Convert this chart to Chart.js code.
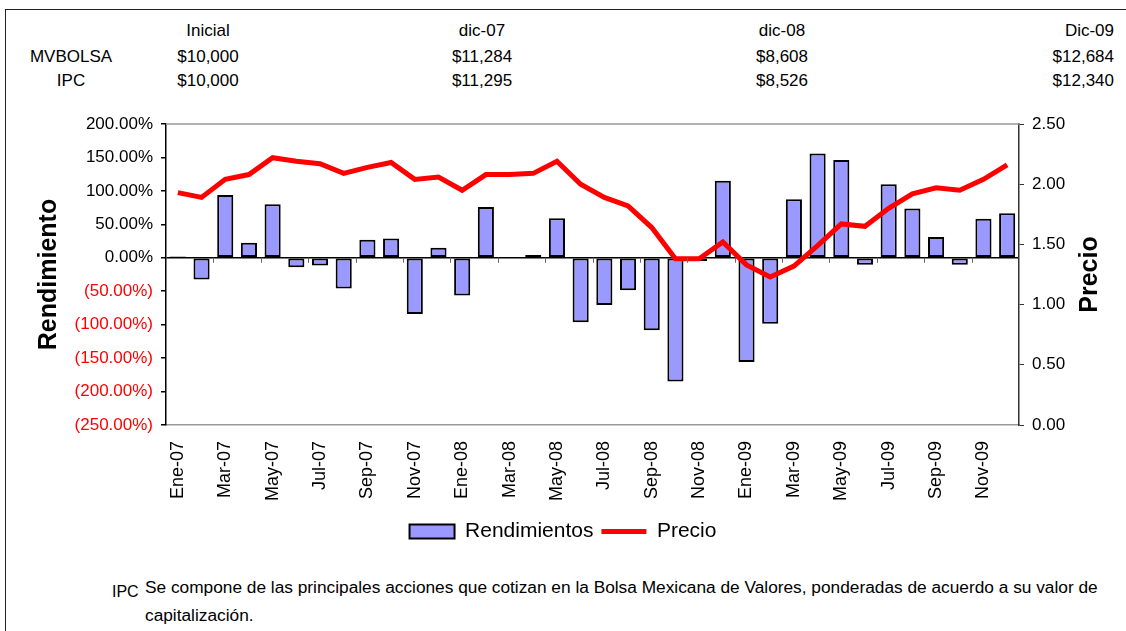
<!DOCTYPE html>
<html>
<head>
<meta charset="utf-8">
<script src="https://cdn.jsdelivr.net/npm/chart.js@4.4.1/dist/chart.umd.min.js"></script>
<style>
  body { margin: 0; background: #fff; font-family: 'Liberation Sans', Arial, sans-serif; }
  #page { position: relative; width: 1126px; height: 631px; overflow: hidden; }
  #frame { position: absolute; left: 5px; top: 9px; width: 1140px; height: 640px; border: 1.5px solid #222; }
  .cell { position: absolute; font-size: 17px; color: #000; white-space: nowrap; transform: translate(-50%, -50%); }
  .cell.right { transform: translate(-100%, -50%); }
  #chartBox { position: absolute; left: 0; top: 100px; width: 1126px; height: 452px; }
  .note { position: absolute; font-size: 17.3px; color: #000; white-space: nowrap; }
</style>
</head>
<body>
<div id="page">
  <div id="frame"></div>
  <div id="table"></div>
  <div id="chartBox"><canvas id="retChart"></canvas></div>
  <div class="note" style="left:112px; top:583px; font-size:16px;">IPC</div>
  <div class="note" style="left:145px; top:577px;">Se compone de las principales acciones que cotizan en la Bolsa Mexicana de Valores, ponderadas de acuerdo a su valor de</div>
  <div class="note" style="left:145px; top:605px;">capitalización.</div>
</div>
<script>
// Tabla de valores
const tableCols = ['Inicial', 'dic-07', 'dic-08', 'Dic-09'];
const mvbolsaRow = ['$10,000', '$11,284', '$8,608', '$12,684'];
const ipcRow = ['$10,000', '$11,295', '$8,526', '$12,340'];

// Serie mensual
const months = ['Ene-07', 'Feb-07', 'Mar-07', 'Abr-07', 'May-07', 'Jun-07', 'Jul-07', 'Ago-07', 'Sep-07', 'Oct-07', 'Nov-07', 'Dic-07',
    'Ene-08', 'Feb-08', 'Mar-08', 'Abr-08', 'May-08', 'Jun-08', 'Jul-08', 'Ago-08', 'Sep-08', 'Oct-08', 'Nov-08', 'Dic-08',
    'Ene-09', 'Feb-09', 'Mar-09', 'Abr-09', 'May-09', 'Jun-09', 'Jul-09', 'Ago-09', 'Sep-09', 'Oct-09', 'Nov-09', 'Dic-09'];
const rendimientos = [2, -32.5, 94, 22.5, 80, -14, -11.5, -46, 27, 29, -84, 15,
    -56.5, 76, 0.5, 4, 59, -96.5, -70.5, -48.5, -108.5, -185, -5, 115,
    -156, -98.5, 87.5, 156, 146, -10.5, 110, 73.5, 31, -10.5, 58.5, 66.5];
const precio = [1.93, 1.89, 2.04, 2.08, 2.22, 2.19, 2.17, 2.09, 2.14, 2.18, 2.04, 2.06,
    1.95, 2.08, 2.08, 2.09, 2.19, 2.00, 1.89, 1.82, 1.64, 1.38, 1.38, 1.52,
    1.33, 1.23, 1.32, 1.49, 1.67, 1.65, 1.80, 1.92, 1.97, 1.95, 2.04, 2.16];

// build the header table
const colX = [208, 482, 782, 1114];
const rowY = [31, 57, 81];
function addCell(text, x, y, right) {
    const d = document.createElement('div');
    d.className = right ? 'cell right' : 'cell';
    d.style.left = x + 'px';
    d.style.top = y + 'px';
    d.textContent = text;
    document.getElementById('table').appendChild(d);
}
addCell('MVBOLSA', 71, rowY[1]);
addCell('IPC', 71, rowY[2]);
tableCols.forEach((c, i) => {
    const last = i === tableCols.length - 1;
    addCell(c, colX[i], rowY[0], last);
    addCell(mvbolsaRow[i], colX[i], rowY[1], last);
    addCell(ipcRow[i], colX[i], rowY[2], last);
});

Chart.defaults.font.family = "'Liberation Sans', Arial, sans-serif";
Chart.defaults.color = '#000';

// axis titles, top frame line, small ticks on the zero line
const extras = {
    id: 'extras',
    afterDraw(chart) {
        const { ctx, chartArea } = chart;
        const xs = chart.scales.x;
        const zeroY = chart.scales.y.getPixelForValue(0);
        const half = (xs.getPixelForValue(1) - xs.getPixelForValue(0)) / 2;
        const midY = (chartArea.top + chartArea.bottom) / 2;
        ctx.save();
        ctx.strokeStyle = '#999';
        ctx.lineWidth = 1.5;
        ctx.beginPath();
        ctx.moveTo(chartArea.left, chartArea.top);
        ctx.lineTo(chartArea.right, chartArea.top);
        ctx.stroke();
        ctx.strokeStyle = '#666';
        ctx.lineWidth = 1;
        ctx.beginPath();
        for (let i = 2; i < months.length; i += 2) {
            const px = Math.round(xs.getPixelForValue(i) - half) + 0.5;
            ctx.moveTo(px, zeroY);
            ctx.lineTo(px, zeroY + 5);
        }
        ctx.stroke();
        ctx.fillStyle = '#000';
        ctx.font = "bold 25px 'Liberation Sans', Arial, sans-serif";
        ctx.textAlign = 'center';
        ctx.textBaseline = 'middle';
        ctx.translate(49, midY);
        ctx.rotate(-Math.PI / 2);
        ctx.fillText('Rendimiento', 0, 0);
        ctx.restore();
        ctx.save();
        ctx.fillStyle = '#000';
        ctx.font = "bold 25px 'Liberation Sans', Arial, sans-serif";
        ctx.textAlign = 'center';
        ctx.textBaseline = 'middle';
        ctx.translate(1090, midY);
        ctx.rotate(-Math.PI / 2);
        ctx.fillText('Precio', 0, 0);
        ctx.restore();
    }
};

function pctLabel(v) {
    if (v < 0) return '(' + Math.abs(v).toFixed(2) + '%)';
    return v.toFixed(2) + '%';
}

const ctx = document.getElementById('retChart').getContext('2d');
new Chart(ctx, {
    type: 'bar',
    data: {
        labels: months,
        datasets: [{
            label: 'Rendimientos',
            data: rendimientos,
            backgroundColor: '#9999FF',
            borderColor: '#000',
            borderWidth: 2,
            borderSkipped: false,
            barPercentage: 0.68,
            categoryPercentage: 1,
            yAxisID: 'y',
            order: 1,
            pointStyle: 'rect'
        }, {
            type: 'line',
            label: 'Precio',
            data: precio,
            borderColor: '#FF0000',
            backgroundColor: '#FF0000',
            borderWidth: 5,
            pointRadius: 0,
            tension: 0,
            yAxisID: 'y1',
            order: 0,
            pointStyle: 'line'
        }]
    },
    options: {
        responsive: true,
        maintainAspectRatio: false,
        animation: false,
        layout: { padding: { top: 24, left: 0, right: 0, bottom: 0 } },
        plugins: {
            tooltip: { enabled: false },
            legend: {
                position: 'bottom',
                labels: {
                    usePointStyle: true,
                    pointStyleWidth: 45,
                    boxHeight: 14,
                    padding: 8,
                    font: { size: 21 },
                    color: '#000',
                    sort: (a, b) => a.datasetIndex - b.datasetIndex
                }
            }
        },
        scales: {
            x: {
                grid: { display: false },
                border: { display: true, color: '#999', width: 1.5 },
                ticks: {
                    autoSkip: false,
                    minRotation: 90,
                    maxRotation: 90,
                    padding: 8,
                    font: { size: 18 },
                    callback: (v, i) => (i % 2 === 0 ? months[i] : '')
                },
                afterFit: s => { s.height = 88; }
            },
            y: {
                position: 'left',
                min: -250,
                max: 200,
                ticks: {
                    stepSize: 50,
                    padding: 8,
                    font: { size: 17 },
                    color: c => (c.tick.value < 0 ? '#FF0000' : '#000'),
                    callback: v => pctLabel(v)
                },
                grid: {
                    color: c => (c.tick && c.tick.value === 0 ? '#000' : 'rgba(0,0,0,0)'),
                    lineWidth: 1.5,
                    tickColor: '#000',
                    tickLength: 5
                },
                border: { color: '#000', width: 1.5 },
                afterFit: s => { s.width = 166; }
            },
            y1: {
                position: 'right',
                min: 0,
                max: 2.5,
                ticks: {
                    stepSize: 0.5,
                    padding: 8,
                    font: { size: 17 },
                    callback: v => v.toFixed(2)
                },
                grid: { drawOnChartArea: false, tickColor: '#333', tickLength: 5 },
                border: { color: '#333', width: 1.5 },
                afterFit: s => { s.width = 107; }
            }
        }
    },
    plugins: [extras]
});
</script>
</body>
</html>
